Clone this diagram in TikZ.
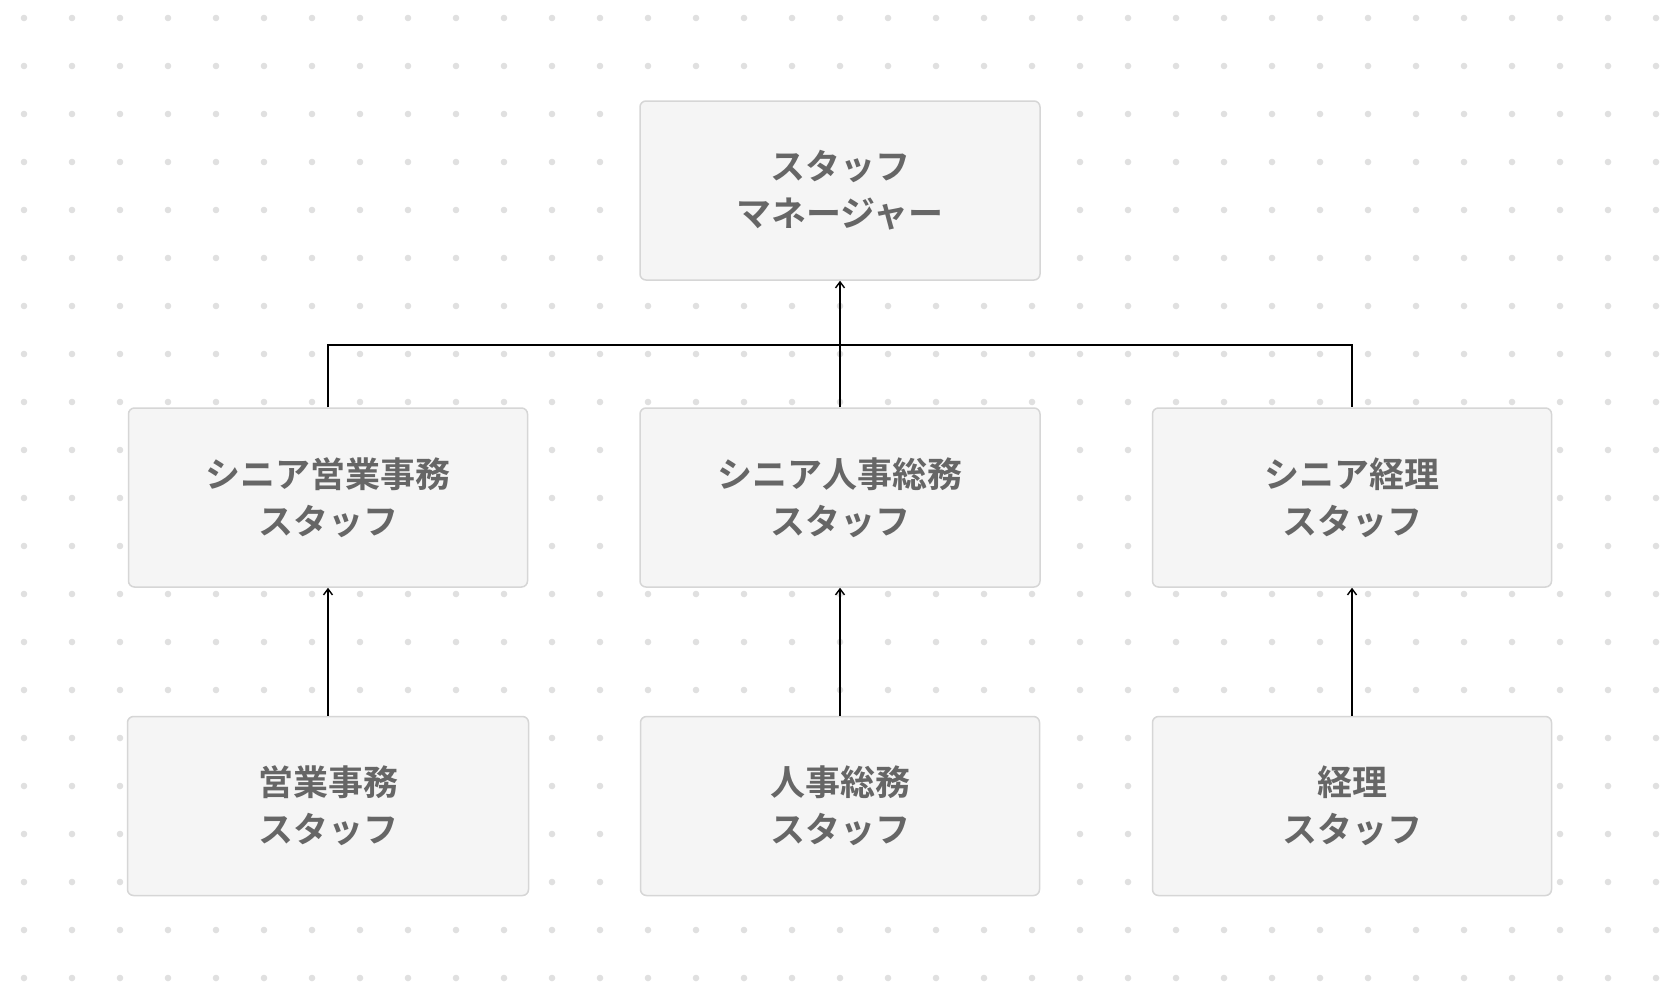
\documentclass[tikz,border=0pt]{standalone}
\usetikzlibrary{arrows.meta}
\usepackage{fontspec}
\newfontfamily\jp{Noto Sans CJK JP Bold}
\begin{document}
\begin{tikzpicture}[x=1pt,y=-1pt,
  box/.style={draw=black!16,line width=1.5pt,fill=black!4,rounded corners=6pt,
    minimum width=#1,minimum height=179pt,inner sep=0pt,align=center,
    text=black!60,font=\jp\fontsize{35}{47}\selectfont},
  box/.default=399pt,
  con/.style={line width=1.4pt,->,>={Straight Barb[length=6pt,width=9pt]}}]
\useasboundingbox (0,0) rectangle (1680,996);
\fill[white] (0,0) rectangle (1680,996);
\foreach \i in {0,...,34}{\foreach \j in {0,...,20}{
  \fill[black!12] (24+48*\i,18+48*\j) circle (3.3pt);}}
\node[box=400pt] (top) at (840,190.5) {スタッフ\\マネージャー};
\node[box] (s1) at (328,497.5) {シニア営業事務\\スタッフ};
\node[box=400pt] (s2) at (840,497.5) {シニア人事総務\\スタッフ};
\node[box] (s3) at (1352,497.5) {シニア経理\\スタッフ};
\node[box=401pt] (b1) at (328,806) {営業事務\\スタッフ};
\node[box] (b2) at (840,806) {人事総務\\スタッフ};
\node[box] (b3) at (1352,806) {経理\\スタッフ};
\coordinate (bus) at (840,345);
\draw[line width=1.4pt] (s1.north) |- (bus) -| (s3.north);
\draw[con] (s2.north) -- (top.south);
\draw[con] (b1.north) -- (s1.south);
\draw[con] (b2.north) -- (s2.south);
\draw[con] (b3.north) -- (s3.south);
\end{tikzpicture}
\end{document}
